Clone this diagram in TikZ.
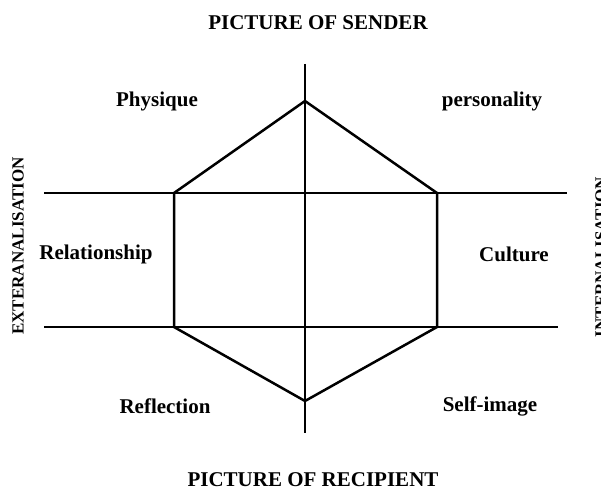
\documentclass[tikz,border=0pt]{standalone}
\usepackage{fontspec}
\setmainfont{Liberation Serif}
\usepackage{tikz}
\usetikzlibrary{positioning,calc}

\tikzset{
  edge/.style={line width=2.5pt,black},
  lab/.style={font=\fontsize{21}{23}\selectfont\bfseries,inner sep=0pt},
  side/.style={font=\fontsize{17}{19}\selectfont\bfseries,inner sep=0pt,rotate=90}
}

\begin{document}
\begin{tikzpicture}[x=1pt,y=-1pt]
\useasboundingbox (0,0) rectangle (601,492);
% axis and hexagon corners
\coordinate (top) at (305,64);
\coordinate (bot) at (305,433);
\coordinate (apex) at (305,101);
\coordinate (foot) at (305,401);
\coordinate (ul) at (174,193);
\coordinate (ur) at (437,193);
\coordinate (ll) at (174,327);
\coordinate (lr) at (437,327);
\coordinate (h1w) at (44,193);
\coordinate (h1e) at (567,193);
\coordinate (h2w) at (44,327);
\coordinate (h2e) at (558,327);

\draw[edge] (top) -- (bot);
\draw[edge] (h1w) -- (h1e);
\draw[edge] (h2w) -- (h2e);
\draw[edge,line join=miter] (ul) -- (apex) -- (ur) -- (lr) -- (foot) -- (ll) -- cycle;

\node[lab] (sender) at (318,23) {PICTURE OF SENDER};
\node[lab] (recipient) at (313,480) {PICTURE OF RECIPIENT};
\node[lab] (physique) at (157,101) {Physique};
\node[lab] (personality) at (492,101) {personality};
\node[lab] (relationship) at (96,254) {Relationship};
\node[lab] (culture) at (514,254) {Culture};
\node[lab] (reflection) at (165,406) {Reflection};
\node[lab] (selfimage) at (490,406) {Self-image};
\node[side] (extern) at (18,246) {EXTERANALISATION};
\node[side] (intern) at (601,257) {INTERNALISATION};
\end{tikzpicture}
\end{document}
